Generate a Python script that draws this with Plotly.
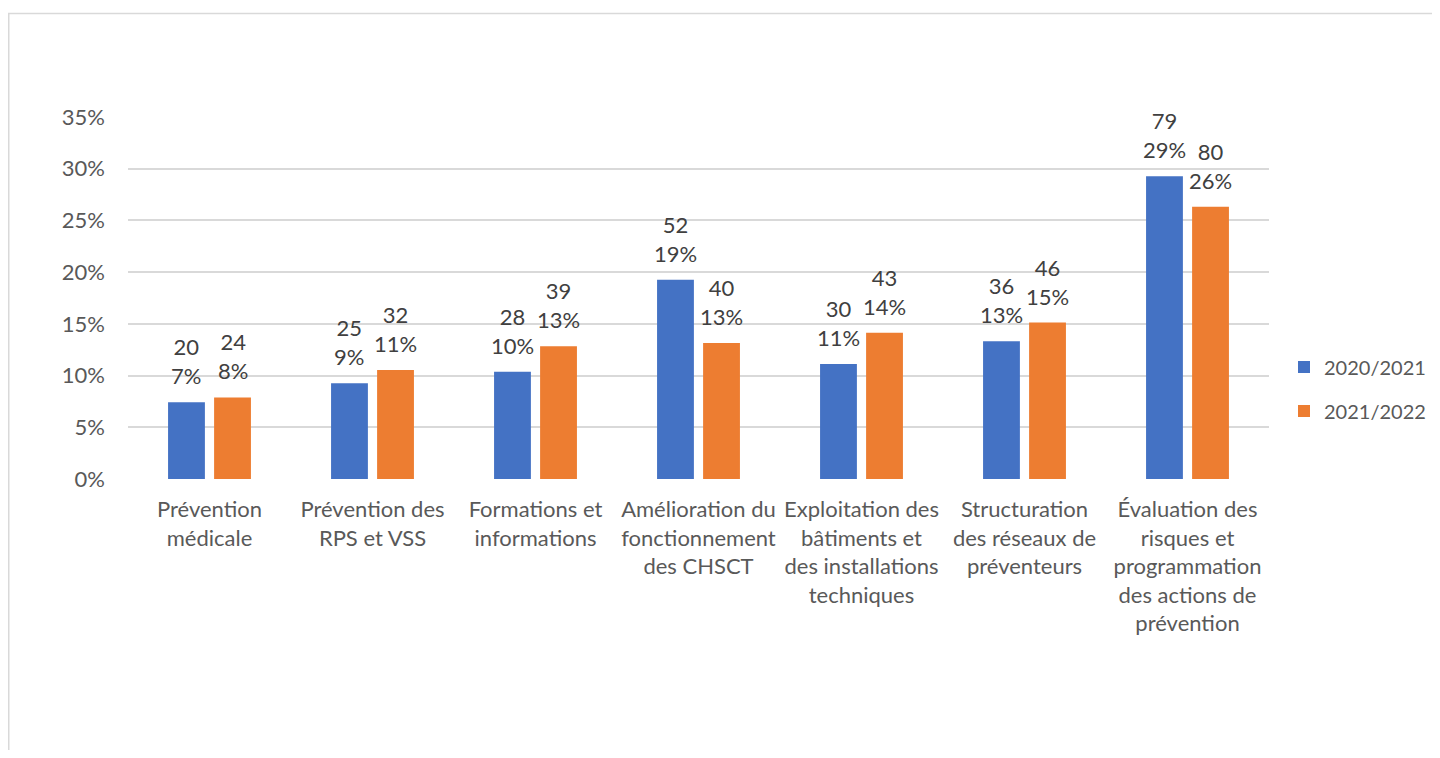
import plotly.graph_objects as go

categories = [
    "Prévention<br>médicale",
    "Prévention des<br>RPS et VSS",
    "Formations et<br>informations",
    "Amélioration du<br>fonctionnement<br>des CHSCT",
    "Exploitation des<br>bâtiments et<br>des installations<br>techniques",
    "Structuration<br>des réseaux de<br>préventeurs",
    "Évaluation des<br>risques et<br>programmation<br>des actions de<br>prévention",
]
series_names = ["2020/2021", "2021/2022"]
counts_2020 = [20, 25, 28, 52, 30, 36, 79]
counts_2021 = [24, 32, 39, 40, 43, 46, 80]
pct_2020 = [7.41, 9.26, 10.37, 19.26, 11.11, 13.33, 29.26]
pct_2021 = [7.89, 10.53, 12.83, 13.16, 14.14, 15.13, 26.32]
y_ticks = [0, 5, 10, 15, 20, 25, 30, 35]

colors = ["#4472C4", "#ED7D31"]
FONT = "Lato"
FS = 22
LEG_FS = 20
TXT = "#404040"
AX = "#595959"

# page has 8px body margin -> figure drawn at (8, 8)
W, H = 1424, 742
L, R, T, B = 120, 1424 - 1261, 109, 742 - 471
BARGAP, GROUPGAP = 0.435, 0.2

fig = go.Figure()
series = [
    (series_names[0], counts_2020, pct_2020, colors[0]),
    (series_names[1], counts_2021, pct_2021, colors[1]),
]
slot = (1 - BARGAP) / len(series)
for k, (name, cnt, pct, col) in enumerate(series):
    fig.add_trace(go.Bar(
        x=categories,
        y=[p / 100 for p in pct],
        name=name,
        legendgroup=name,
        marker=dict(color=col, line=dict(width=0)),
        hoverinfo="x+y+name",
    ))
    off = -(1 - BARGAP) / 2 + slot * (k + 0.5)
    for i, (c, p) in enumerate(zip(cnt, pct)):
        fig.add_annotation(
            x=i + off, y=p / 100, xref="x", yref="y",
            text=f"{c}<br>{round(p):d}%",
            showarrow=False, yanchor="bottom", xanchor="center",
            yshift=11, align="center",
            font=dict(family=FONT, size=FS, color=TXT),
        )

pw = W - L - R
ph = H - T - B

def px_to_paper_x(px):
    return (px - L) / pw

def px_to_paper_y(py):
    return (H - B - py) / ph

fig.add_shape(
    type="rect", xref="paper", yref="paper",
    x0=px_to_paper_x(0.75), x1=px_to_paper_x(1480),
    y0=px_to_paper_y(800), y1=px_to_paper_y(5.5),
    line=dict(color="#D9D9D9", width=1.5), fillcolor="rgba(0,0,0,0)",
    layer="below",
)

fig.update_layout(
    width=W, height=H,
    margin=dict(l=L, r=R, t=T, b=B, autoexpand=False),
    paper_bgcolor="white", plot_bgcolor="white",
    barmode="group", bargap=BARGAP, bargroupgap=GROUPGAP,
    font=dict(family=FONT, size=FS, color=AX),
    showlegend=True,
    legend=dict(
        x=px_to_paper_x(1276), xanchor="left",
        y=px_to_paper_y(381), yanchor="middle",
        font=dict(family=FONT, size=LEG_FS, color=AX),
        itemwidth=30, tracegroupgap=15, traceorder="grouped",
        bgcolor="rgba(0,0,0,0)",
    ),
)
fig.update_yaxes(
    range=[0, 0.35], tickvals=[t / 100 for t in y_ticks],
    ticktext=[f"{t}%" for t in y_ticks],
    showgrid=True, gridcolor="#D9D9D9", gridwidth=1.5,
    zeroline=False, showline=False, ticks="", ticklabelstandoff=22,
    tickfont=dict(family=FONT, size=FS, color=AX),
)
fig.update_xaxes(
    showgrid=False, showline=False, ticks="", zeroline=False,
    tickfont=dict(family=FONT, size=FS, color=AX),
    tickangle=0, ticklabelstandoff=15,
)

fig.write_html("out.html")
